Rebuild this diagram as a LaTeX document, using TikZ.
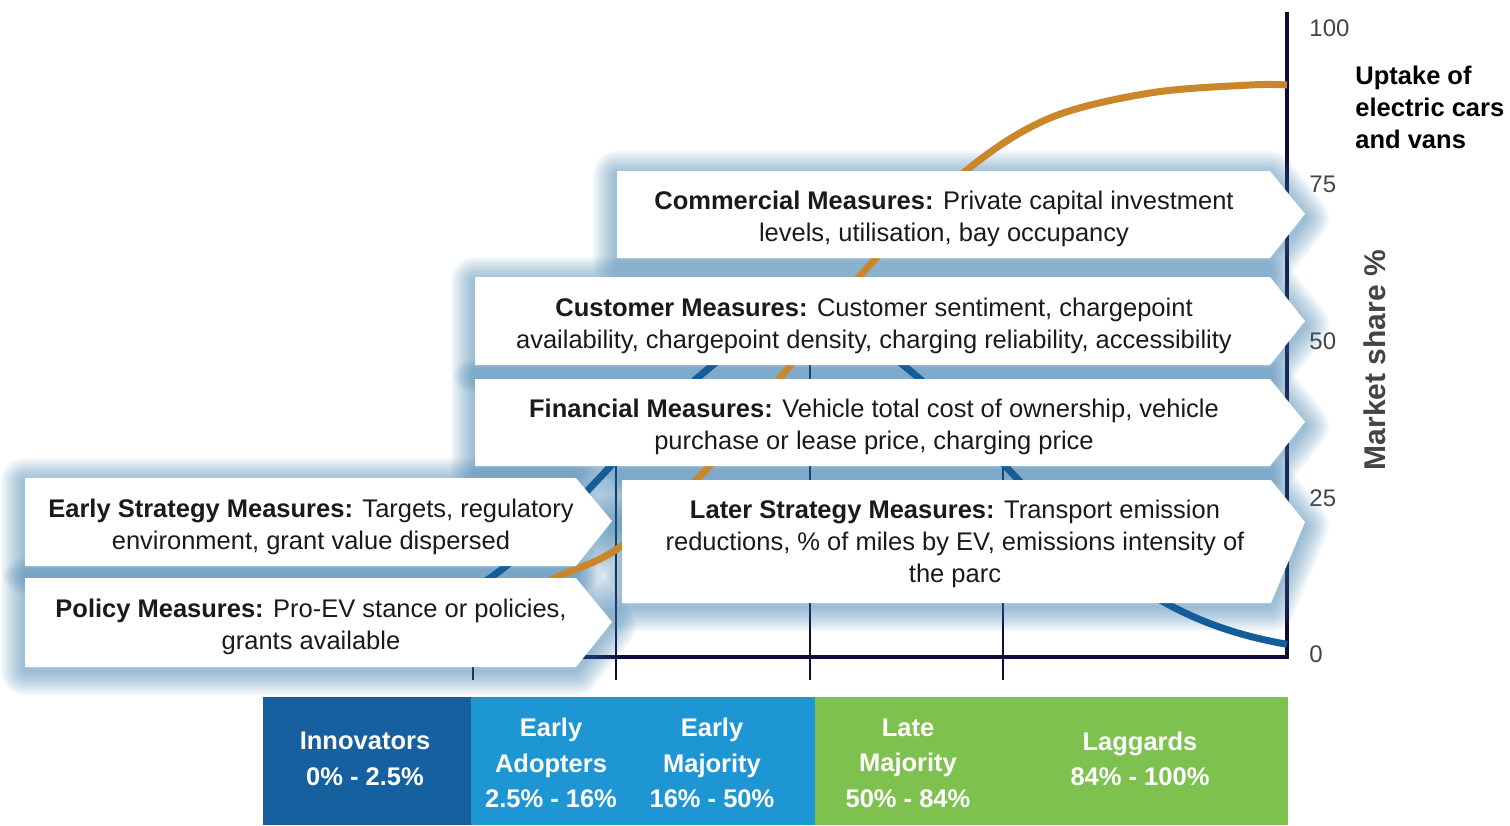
\documentclass[tikz,border=0pt]{standalone}
\usepackage{fontspec}
\setmainfont{Liberation Sans}
\usetikzlibrary{calc}

\definecolor{axisnavy}{RGB}{15,12,58}
\definecolor{bellblue}{RGB}{19,93,155}
\definecolor{uptakeorange}{RGB}{202,135,42}
\definecolor{glowblue}{RGB}{45,115,165}
\definecolor{innovblue}{RGB}{22,96,160}
\definecolor{earlyblue}{RGB}{30,150,212}
\definecolor{lategreen}{RGB}{126,193,78}
\definecolor{textdark}{RGB}{26,26,26}
\definecolor{tickgrey}{RGB}{68,68,68}

\tikzset{
  measure/.style={align=center, text=textdark, inner sep=0pt,
    font=\fontsize{12.75}{16}\selectfont},
  bandlabel/.style={align=center, text=white, inner sep=0pt,
    font=\bfseries\fontsize{12.75}{17.75}\selectfont},
  ticklabel/.style={anchor=west, text=tickgrey, inner sep=0pt,
    font=\fontsize{12}{14}\selectfont},
  divider/.style={axisnavy, line width=1.25pt},
  axisline/.style={axisnavy, line width=2pt, line join=miter},
  curve/.style={line width=3.5pt},
}

% boxes: left/top/right/bottom/tip x/tip y
\def\boxlist{617/171/1270/258/1305/214, 475/277/1270/365/1305/321,
  475/379/1270/466/1305/422, 622/480/1271/603/1305/522,
  25/478/576/566/612/521, 25/578/576/667/612/622}

\begin{document}
\begin{tikzpicture}[x=0.5pt, y=-0.5pt,
    declare function={bell(\x)=657-332*exp(-((\x-808)/265.3)^2);}]
  \useasboundingbox (0,0) rectangle (1510,825);

  % axes
  \coordinate (ytop) at (1287,12);
  \coordinate (origin) at (1287,657);
  \coordinate (xstart) at (473,657);
  \draw[axisline] (ytop) -- (origin) -- (xstart);
  \foreach \x in {473,616,810,1003}{
    \draw[divider] (\x,{bell(\x)}) -- (\x,680);
  }
  \foreach \v/\y in {100/28,75/184,50/341,25/498,0/654}{
    \node[ticklabel] (tick\v) at (1309,\y) {\v};
  }
  \node[rotate=90, text=tickgrey, font=\bfseries\fontsize{15}{18}\selectfont]
    (mshare) at (1375,360) {Market share \%};
  \node[anchor=north west, align=left, inner sep=0pt,
    font=\bfseries\fontsize{12.75}{16}\selectfont] (uptake) at (1355,66)
    {Uptake of\\electric cars\\and vans};

  % glow behind the boxes
  \foreach \xl/\yt/\xr/\yb/\xt/\yp in \boxlist{
    \foreach \w in {48,44,...,4}{
      \draw[glowblue, draw opacity=0.05, line width=\w*0.5pt, line join=round,
        shift={(0,4)}]
        (\xl,\yt) -- (\xr,\yt) -- (\xt,\yp) -- (\xr,\yb) -- (\xl,\yb) -- cycle;
    }
  }

  % curves
  \draw[curve, bellblue] plot[domain=440:1287, samples=120] (\x,{bell(\x)});
  \draw[curve, uptakeorange] plot[smooth, tension=0.55] coordinates
    {(475,612) (557,577) (620,547) (703,473) (785,372) (867,268)
     (967,170) (1050,118) (1150,93) (1250,85) (1287,85)};

  % boxes
  \foreach \xl/\yt/\xr/\yb/\xt/\yp in \boxlist{
    \fill[white] (\xl,\yt) -- (\xr,\yt) -- (\xt,\yp) -- (\xr,\yb) -- (\xl,\yb) -- cycle;
  }

  % measures
  \node[measure] (cmrc) at (944,219)
    {\textbf{Commercial Measures:} Private capital investment\\
     levels, utilisation, bay occupancy};
  \node[measure] (cust) at (874,326)
    {\textbf{Customer Measures:} Customer sentiment, chargepoint\\
     availability, chargepoint density, charging reliability, accessibility};
  \node[measure] (finc) at (874,427)
    {\textbf{Financial Measures:} Vehicle total cost of ownership, vehicle\\
     purchase or lease price, charging price};
  \node[measure] (later) at (955,544)
    {\textbf{Later Strategy Measures:} Transport emission\\
     reductions, \% of miles by EV, emissions intensity of\\the parc};
  \node[measure] (early) at (311,527)
    {\textbf{Early Strategy Measures:} Targets, regulatory\\
     environment, grant value dispersed};
  \node[measure] (policy) at (311,627)
    {\textbf{Policy Measures:} Pro-EV stance or policies,\\grants available};

  % adopter bands
  \fill[innovblue] (263,697) rectangle (471,825);
  \fill[earlyblue] (471,697) rectangle (815,825);
  \fill[lategreen] (815,697) rectangle (1288,825);
  \node[bandlabel] (innov) at (365,759) {Innovators\\0\% - 2.5\%};
  \node[bandlabel] (adopt) at (551,763) {Early\\Adopters\\2.5\% - 16\%};
  \node[bandlabel] (emaj) at (712,763) {Early\\Majority\\16\% - 50\%};
  \node[bandlabel] (lmaj) at (908,763) {Late\\Majority\\50\% - 84\%};
  \node[bandlabel] (lagg) at (1140,759) {Laggards\\84\% - 100\%};
\end{tikzpicture}
\end{document}
